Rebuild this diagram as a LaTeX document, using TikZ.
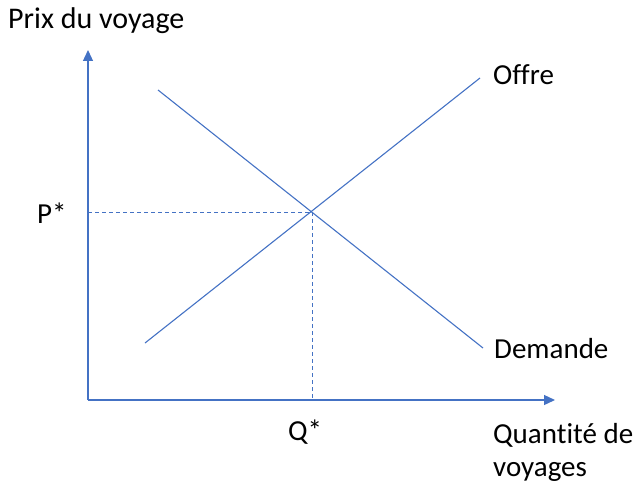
\documentclass[tikz,border=0pt]{standalone}
\usepackage{fontspec}
\setmainfont{Carlito}[Ligatures={NoCommon}]
\usetikzlibrary{arrows.meta}
\definecolor{lineblue}{HTML}{4472C4}
\begin{document}
\begin{tikzpicture}[x=1pt,y=-1pt,
  curve/.style={draw=lineblue,line width=1.1pt},
  axis/.style={draw=lineblue,line width=1.3pt,-{Triangle[length=11pt,width=10pt]}},
  guide/.style={draw=lineblue,line width=1pt,dash pattern=on 4pt off 3pt},
  lbl/.style={inner sep=0pt,anchor=west,font=\fontsize{29}{33}\selectfont}]
\useasboundingbox (0,0) rectangle (644,489);
\coordinate (O) at (88,400);
\coordinate (ytip) at (88,50);
\coordinate (xtip) at (555,400);
\coordinate (s1) at (145,343);
\coordinate (s2) at (480,78);
\coordinate (d1) at (158,90);
\coordinate (d2) at (483,348);
\coordinate (E) at (312,212);
\coordinate (Py) at (88,212);
\coordinate (Qx) at (312,400);
\draw[axis] (O) -- (ytip);
\draw[axis] (O) -- (xtip);
\draw[curve] (s1) -- (s2);
\draw[curve] (d1) -- (d2);
\draw[guide] (Py) -- (E) -- (Qx);
\node[lbl,font=\fontsize{30}{35}\selectfont] (ylab) at (8,21) {Prix du voyage};
\node[lbl] (offre) at (493,75) {Offre};
\node[lbl] (demande) at (494,349) {Demande};
\node[lbl] (pstar) at (37,213) {P*};
\node[lbl] (qstar) at (288,432) {Q*};
\node[lbl,align=left] (xlab) at (493,452) {Quantité de\\voyages};
\end{tikzpicture}
\end{document}
